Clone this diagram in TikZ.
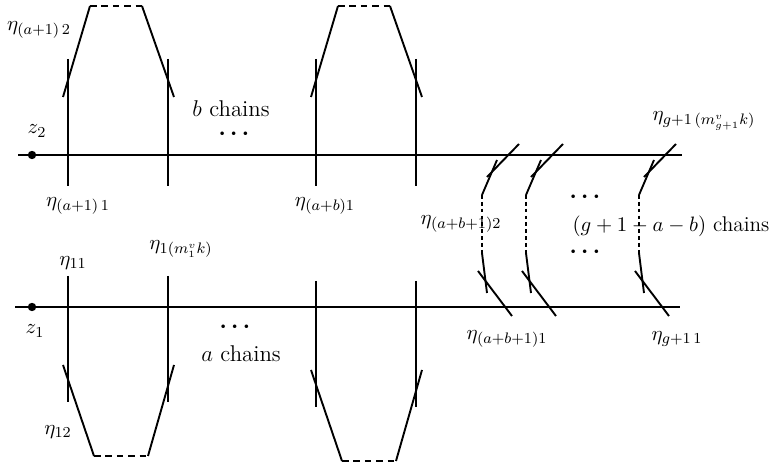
\documentclass[tikz,border=0pt]{standalone}
\usepackage{amsmath,amssymb}
\usetikzlibrary{positioning}
\tikzset{
  crv/.style={line width=1pt},
  cyc/.style={line width=1pt},
  cycgap/.style={line width=1pt,dash pattern=on 3.5pt off 2.5pt},
  cycdot/.style={line width=1pt,dash pattern=on 2pt off 1.6pt},
  lbl/.style={inner sep=1pt,font=\fontsize{10.8pt}{13pt}\selectfont},
  chn/.style={inner sep=0pt,font=\large},
  dts/.style={inner sep=0pt,font=\large},
  mpt/.style={circle,fill,inner sep=0pt,minimum size=4.4pt}
}

\begin{document}
\begin{tikzpicture}[x=0.526pt, y=-0.526pt]
  \useasboundingbox (0,0) rectangle (772,466);

  % The two curves with their points
  \coordinate (l2) at (18,155);  \coordinate (r2) at (682,155);
  \coordinate (l1) at (15,307);  \coordinate (r1) at (680,307);
  \draw[crv] (l2) -- (r2);
  \draw[crv] (l1) -- (r1);
  \node[mpt] (p2) at (32,155) {};
  \node[mpt] (p1) at (32,307) {};
  \node[lbl] (z2) at (37,131) {$z_2$};
  \node[lbl] (z1) at (35,331) {$z_1$};

  % Chains over z_2
  \foreach \x in {68,316} {
    \draw[cyc] (\x,59) -- (\x,186);
    \draw[cyc] (\x+100,59) -- (\x+100,186);
    \draw[cyc] (\x-5,97) -- (\x+22,6);
    \draw[cycgap] (\x+22,6) -- (\x+74,6);
    \draw[cyc] (\x+74,6) -- (\x+106,97);
  }
  \node[lbl] (e22) at (39,30) {$\eta_{(a+1)\,2}$};
  \node[lbl] (e21) at (78,206) {$\eta_{(a+1)\,1}$};
  \node[lbl] (eb1) at (325,206) {$\eta_{(a+b)1}$};
  \node[chn] (bch) at (231,109) {$b$ chains};
  \node[dts] (bdots) at (236,134) {$\boldsymbol{\cdots}$};

  % Chains under z_1
  \foreach \x/\d in {68/0,316/5} {
    \draw[cyc] (\x,276+\d) -- (\x,402+\d);
    \draw[cyc] (\x+100,276+\d) -- (\x+100,402+\d);
    \draw[cyc] (\x-5,365+\d) -- (\x+26,456+\d);
    \draw[cycgap] (\x+26,456+\d) -- (\x+80,456+\d);
    \draw[cyc] (\x+80,456+\d) -- (\x+106,365+\d);
  }
  \node[lbl] (e11) at (73,263) {$\eta_{11}$};
  \node[lbl] (e1m) at (181,249) {$\eta_{1(m_1^v k)}$};
  \node[lbl] (e12) at (58,432) {$\eta_{12}$};
  \node[dts] (adots) at (237,327) {$\boldsymbol{\cdots}$};
  \node[chn] (ach) at (241,354) {$a$ chains};

  % Chains from z_1 to z_2
  \node[lbl, font=\fontsize{11.2pt}{13pt}\selectfont] (gch) at (671,226) {$(g+1-a-b)$ chains};
  \node[dts] (gdots1) at (587,197) {$\boldsymbol{\cdots}$};
  \node[dts] (gdots2) at (587,252) {$\boldsymbol{\cdots}$};
  \foreach \x in {482,526,639} {
    \draw[cyc] (\x,195) -- (\x+15,160);
    \draw[cyc] (\x+5,177) -- (\x+37,144);
    \draw[cycdot] (\x,195) -- (\x,253);
    \draw[cyc] (\x,253) -- (\x+5,293);
    \draw[cyc] (\x-4,271) -- (\x+30,316);
  }
  \node[lbl] (eab2) at (461,224) {$\eta_{(a+b+1)2}$};
  \node[lbl] (eab1) at (507,339) {$\eta_{(a+b+1)1}$};
  \node[lbl] (eg1) at (677,339) {$\eta_{g+1\,1}$};
  \node[lbl] (egm) at (704,121) {$\eta_{g+1\,(m^v_{g+1}k)}$};

\end{tikzpicture}
\end{document}
